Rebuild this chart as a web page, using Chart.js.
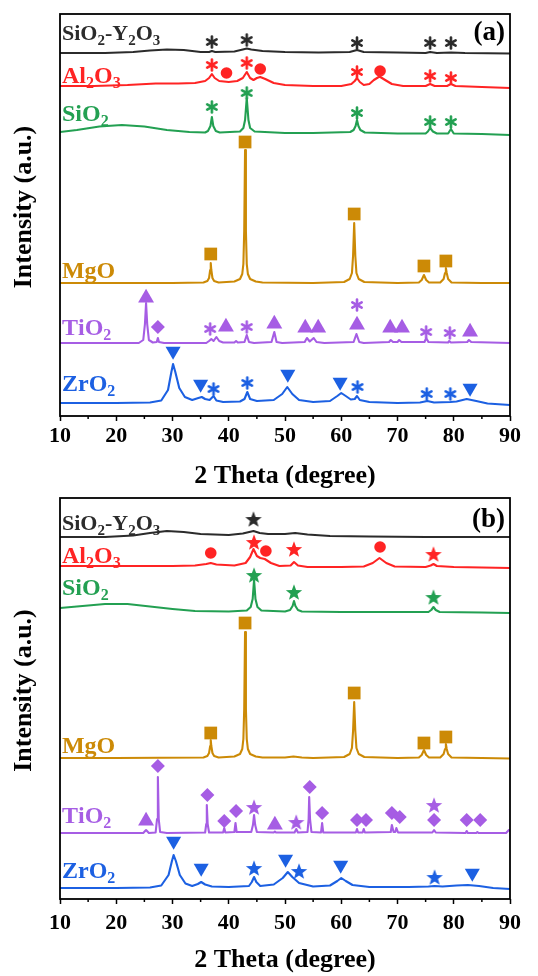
<!DOCTYPE html>
<html><head><meta charset="utf-8">
<script src="https://cdn.jsdelivr.net/npm/chart.js@4.4.1/dist/chart.umd.min.js"></script>
<style>
html,body{margin:0;padding:0;background:#fff;}
#wrap{position:relative;width:538px;height:976px;}
.pane{position:absolute;left:0;width:538px;height:488px;}
canvas{display:block;}
</style></head><body>
<div id="wrap">
<div class="pane" style="top:0"><canvas id="ca" width="538" height="488"></canvas></div>
<div class="pane" style="top:488px"><canvas id="cb" width="538" height="488"></canvas></div>
</div>
<script>
// ---------- DATA ----------
const seriesNames = ['SiO2-Y2O3','Al2O3','SiO2','MgO','TiO2','ZrO2'];
const xTicks = [10,20,30,40,50,60,70,80,90];
const panelTags = ['(a)','(b)'];

// Panel (a) patterns: [2theta, intensity (a.u., stacked)]
const a_SiY = [[10,363],[18,363],[23,364],[26,365.5],[29,366.5],[32,366],[35,364],[36.5,364],[37,365],[37.6,364],[41,364.5],[42.5,366.5],[43.2,367.5],[44,366.5],[46,365],[50,364],[56,363.5],[61.5,364],[62.8,366],[64,364],[70,363.5],[75,363],[75.8,364],[77,363],[79.5,363.5],[82,363],[90,362.5]];
const a_Al = [[10,330],[16,330],[22,331],[27,332.5],[31,332.5],[34,333],[35.8,335],[36.5,338],[37,342],[37.5,338],[38.3,335],[40,334],[41.5,335],[42.5,338],[43.2,344],[43.8,338],[44.4,336],[45,338],[45.6,339],[46.5,337],[48,333],[50,331],[55,330],[60,330],[61.8,332],[62.4,335],[62.8,338],[63.3,334],[64,331],[65,332],[65.8,336],[66.8,339.5],[67.8,336],[69,332],[71,330],[75,330],[75.8,332],[76.6,330],[78.8,330],[79.5,332],[80.3,330],[85,329],[90,328]];
const a_Si = [[10,284],[13,286],[17,289.5],[21,291],[25,289.5],[29,286],[33,284],[35.8,283.5],[36.3,285],[36.75,290],[37,299],[37.25,290],[37.7,285],[38.4,283.5],[42,284.5],[42.6,288],[42.9,296],[43.2,318],[43.5,296],[43.8,288],[44.6,284.5],[50,283],[55,283],[61.6,284],[62.2,286],[62.55,290],[62.8,296],[63.05,290],[63.4,286],[64.2,283.5],[70,282.5],[75,282.5],[75.4,284.5],[75.8,288],[76.3,284.5],[77,282.5],[79,282.5],[79.5,287],[80,282.5],[85,282],[90,281]];
const a_Mg = [[10,133],[20,133],[30,133],[35.5,133.5],[36.2,135],[36.5,138],[36.7,146],[36.8,153],[36.9,146],[37.1,138],[37.4,135],[38.2,133.5],[41.0,134.5],[42.0,137],[42.4,142],[42.6,152],[42.75,185],[42.9,266],[43.05,185],[43.2,152],[43.4,142],[43.8,137],[44.8,134.5],[46,133.5],[55,133],[60.5,134],[61.5,137],[61.9,143],[62.1,160],[62.3,193],[62.5,160],[62.7,143],[63.1,137],[64.1,134],[70,133],[73.8,133.5],[74.3,136],[74.7,141],[75.1,136],[75.6,133.5],[77.6,133.5],[78.2,137],[78.45,143],[78.6,148],[78.75,143],[79.0,137],[79.6,133.5],[85,133],[90,133]];
const a_Ti = [[10,73],[24,73],[24.8,76],[25.1,92],[25.3,113],[25.5,92],[25.8,76],[26.5,73.5],[27.2,74],[27.4,78],[27.6,74],[28.5,73],[36,73],[36.5,75],[36.9,77],[37.3,75],[37.8,79],[38.3,75],[39,73.5],[41,73.5],[41.3,75],[41.6,73.5],[42.8,74],[43.2,81],[43.6,74],[44.5,73],[47.6,74],[48.1,84],[48.5,74],[49.5,73],[53.5,74],[53.9,78],[54.4,74.5],[55.1,78],[55.6,74],[57,73],[62.2,74],[62.7,82],[63.2,74],[64,73],[68.5,74],[68.8,76],[69.2,74],[70,74],[70.3,76],[70.7,74],[74.8,74],[75.1,78],[75.5,74],[79,73.5],[79.2,75],[79.5,73.5],[82.4,74],[82.7,76],[83.1,74],[90,73]];
const a_Zr = [[10,13],[20,13],[26,13.5],[28,15.5],[29.2,26],[29.8,44],[30.1,52],[30.5,44],[31.2,28],[32.2,19],[33.5,16],[34.6,18],[35.2,19],[35.8,17],[36.6,16],[37.3,20],[37.8,15.5],[39,14],[42,14.5],[42.8,17],[43.3,24],[43.8,17],[45,15],[48,16],[49.5,22],[50.4,29],[51.3,22],[52.5,16],[55,14],[58,15],[59.3,20],[60,23],[60.8,20],[61.7,16.5],[62.4,17],[62.8,20],[63.3,16],[65,14],[70,13],[74,13.5],[75.3,15],[76.5,13.5],[79.4,14],[80.5,14.5],[82.3,17],[84,15],[86,12.5],[90,11]];

// Panel (a) phase markers
const a_SiY_ast = [[37.0,374],[43.2,376],[62.8,373],[75.8,373],[79.5,373]];
const a_Al_ast = [[37.0,351],[43.2,353],[62.8,344],[75.8,340],[79.5,338]];
const a_Al_circ = [[39.6,343],[45.6,347],[66.9,345]];
const a_Si_ast = [[37.0,309],[43.2,323],[62.8,303],[75.8,294],[79.5,294]];
const a_Mg_sq = [[36.8,162],[42.9,274],[62.3,202],[74.7,150],[78.6,155]];
const a_Ti_tri = [[25.3,118],[39.5,89],[48.1,92],[53.6,88],[55.9,88],[62.8,91],[68.7,88],[70.8,88],[82.9,84]];
const a_Ti_dia = [[27.4,89]];
const a_Ti_ast = [[36.7,87],[43.2,89],[62.8,111],[75.1,84],[79.3,83]];
const a_Zr_down = [[30.1,65],[35.0,32],[50.5,42],[59.8,34],[82.9,28]];
const a_Zr_ast = [[37.3,27],[43.3,33],[62.9,29],[75.2,22],[79.4,22]];

// Panel (b) patterns
const b_SiY = [[10,362],[18,362],[23,363.5],[26,366],[29,368],[32,367],[35,365],[40,364],[42.5,365.5],[44.4,368],[45.5,366],[47,365],[50,365],[51.8,366],[54,364.5],[58,363],[65,362.5],[75,362],[90,362]];
const b_Al = [[10,333],[20,333],[30,333],[34,333.5],[36,335],[36.8,336],[37.8,334.5],[41,333.5],[43,336],[43.8,342],[44.4,350],[45,343],[45.6,341],[46.4,340],[47.5,336],[49,333],[51,333.5],[51.6,337],[52.3,333.5],[54,332],[60,332],[64,332.5],[65.6,336],[66.8,341],[68,336],[69.5,332.5],[75,332],[75.9,333.5],[76.4,335],[77,333],[80,332],[90,331]];
const b_Si = [[10,291],[14,293],[18,295],[22,295],[26,292.5],[30,290],[34,288],[40,287.5],[43.2,288.5],[43.9,292],[44.25,300],[44.5,319],[44.75,300],[45.1,292],[45.8,288.5],[50,287.5],[50.9,289],[51.35,293],[51.6,298],[51.85,293],[52.3,289],[53,287.5],[60,287],[75.5,287],[76,289],[76.4,292],[76.8,289],[77.5,287],[85,286.5],[90,286]];
const b_Mg = [[10,141],[20,141],[35.5,141.5],[36.2,143],[36.5,146],[36.7,153],[36.8,159],[36.9,153],[37.1,146],[37.4,143],[38.2,141.5],[41.0,142.5],[42.0,145],[42.4,150],[42.6,160],[42.75,190],[42.9,267],[43.05,190],[43.2,160],[43.4,150],[43.8,145],[44.8,142.5],[46,141.5],[50,141.5],[51.5,142.5],[53,141.5],[55,141],[60.5,142],[61.5,145],[61.9,151],[62.1,168],[62.3,197],[62.5,168],[62.7,151],[63.1,145],[64.1,142],[70,141],[73.8,141.5],[74.3,144],[74.7,149],[75.1,144],[75.6,141.5],[77.6,141.5],[78.2,145],[78.45,150],[78.6,155],[78.75,150],[79.0,145],[79.6,141.5],[85,141],[90,140.5]];
const b_Ti = [[10,66],[24.8,66],[25.3,69],[25.8,66],[27,66.5],[27.25,80],[27.4,122],[27.55,80],[27.8,67],[29,66],[35.8,66.5],[36.0,75],[36.1,94],[36.25,75],[36.5,66.5],[39,66.5],[39.2,71],[39.4,66.5],[41,67],[41.2,76],[41.4,67],[44,67],[44.3,74],[44.5,84],[44.7,74],[45,67],[48,66.5],[48.2,67.5],[48.4,66.5],[51.7,66.5],[52,70],[52.3,66.5],[54,67],[54.2,80],[54.3,102],[54.45,80],[54.7,67],[56.4,66.5],[56.6,76],[56.8,66.5],[62.6,66.5],[62.8,70],[63,66.5],[63.8,66.5],[64.0,70],[64.2,66.5],[68.8,67],[69.0,74],[69.3,67],[69.6,67],[69.8,71],[70.1,66.5],[76.2,66.5],[76.5,69],[76.8,66.5],[82.1,66],[82.3,68],[82.5,66],[84,66],[84.2,67],[84.4,66],[89.3,66],[89.8,69],[90,68]];
const b_Zr = [[10,11],[20,11],[26,11.5],[28,13.5],[29.3,24],[29.9,38],[30.2,44],[30.6,38],[31.3,24],[32.3,15.5],[33.5,13],[34.5,15],[35.1,17],[35.8,14.5],[37,12.5],[40,12],[43.6,13],[44.1,17],[44.5,22],[44.9,17],[45.6,13],[48,14.5],[49.6,21],[50.5,27],[51.3,22],[52.5,16],[55,12.5],[58,13.5],[59.3,18],[60,21],[60.8,18],[62,14],[65,12],[72,12],[75.5,12.5],[76.6,13],[78,12.5],[80.5,13.5],[82.5,14],[84.5,13],[87,11],[90,10]];

// Panel (b) phase markers
const b_SiY_star = [[44.4,380]];
const b_Al_star = [[44.5,357],[51.6,350],[76.4,345]];
const b_Al_circ = [[36.8,346],[46.6,348],[66.9,352]];
const b_Si_star = [[44.5,324],[51.6,307],[76.4,302]];
const b_Mg_sq = [[36.8,166],[42.9,276],[62.3,206],[74.7,156],[78.6,162]];
const b_Ti_tri = [[25.3,78],[48.2,74]];
const b_Ti_dia = [[27.4,133],[36.2,104],[39.2,78],[41.3,88],[54.4,112],[56.6,86],[62.8,79],[64.4,79],[69.0,86],[70.4,82],[76.5,79],[82.3,79],[84.7,79]];
const b_Ti_star = [[44.5,92],[52.0,77],[76.5,94]];
const b_Zr_down = [[30.2,58],[35.1,31],[50.1,40],[59.9,34],[83.3,26]];
const b_Zr_star = [[44.5,31],[52.5,28],[76.6,22]];

// ---------- STYLE ----------
const FONT = "'Liberation Serif','Times New Roman',serif";
const COLORS = ['#2b2b2b','#ff2424','#23a052','#cc8a06','#a65de4','#1c60e2'];
const LABEL_SIZES = [22,24,24,24,24,24];

function pts(a){return a.map(p=>({x:p[0],y:p[1]}));}

function makeGlyph(kind,color){
  const c=document.createElement('canvas');
  if(kind==='ast'){
    c.width=c.height=14; const g=c.getContext('2d');
    g.strokeStyle=color; g.lineWidth=2.6; g.lineCap='round'; const r=5.4;
    for(const a of [90,30,150]){const t=a*Math.PI/180;
      g.beginPath(); g.moveTo(7-r*Math.cos(t),7-r*Math.sin(t)); g.lineTo(7+r*Math.cos(t),7+r*Math.sin(t)); g.stroke();}
  } else {
    c.width=c.height=18; const g=c.getContext('2d'); g.fillStyle=color; g.beginPath();
    for(let i=0;i<10;i++){const r=i%2?3.6:8.6; const t=-Math.PI/2+i*Math.PI/5;
      const x=9+r*Math.cos(t), y=9.8+r*Math.sin(t); if(i) g.lineTo(x,y); else g.moveTo(x,y);}
    g.closePath(); g.fill();
  }
  return c;
}

function markers(data,color,kind){
  const base={type:'scatter',data:pts(data),showLine:false,order:0,pointBorderWidth:0,
    pointBackgroundColor:color,pointBorderColor:color,pointHoverRadius:0};
  switch(kind){
    case 'circle': return {...base,pointStyle:'circle',pointRadius:5.8};
    case 'square': return {...base,pointStyle:'rect',pointRadius:9};
    case 'tri': return {...base,pointStyle:'triangle',pointRadius:9.2};
    case 'down': return {...base,pointStyle:'triangle',pointRadius:8.7,pointRotation:180};
    case 'diamond': return {...base,pointStyle:'rectRot',pointRadius:7};
    case 'ast': return {...base,pointStyle:makeGlyph('ast',color),pointRadius:5};
    case 'star': return {...base,pointStyle:makeGlyph('star',color),pointRadius:5};
  }
}
function line(data,color){
  return {type:'scatter',data:pts(data),showLine:true,borderColor:color,borderWidth:2.1,
    pointRadius:0,tension:0,order:1,fill:false,borderJoinStyle:'round'};
}

function drawChem(ctx,text,x,yMid,size,color){
  ctx.fillStyle=color; ctx.textAlign='left'; ctx.textBaseline='alphabetic';
  const base=yMid+size*0.33; let cx=x;
  for(let i=0;i<text.length;i++){
    const ch=text[i];
    const sub=/\d/.test(ch)&&i>0&&/[A-Za-z]/.test(text[i-1]);
    ctx.font='bold '+(sub?Math.round(size*0.68):size)+'px '+FONT;
    ctx.fillText(ch,cx,sub?base+size*0.22:base);
    cx+=ctx.measureText(ch).width;
  }
}

function panelPlugin(tag,labelV,tagV){
  return {id:'panel',afterDraw(chart){
    const {ctx,chartArea:a,scales:{x,y}}=chart;
    ctx.save();
    ctx.strokeStyle='#000'; ctx.lineWidth=1.8;
    ctx.strokeRect(a.left,a.top,a.right-a.left,a.bottom-a.top);
    ctx.lineWidth=1.5;
    for(let v=15;v<90;v+=10){const px=x.getPixelForValue(v);
      ctx.beginPath(); ctx.moveTo(px,a.bottom); ctx.lineTo(px,a.bottom+3); ctx.stroke();}
    seriesNames.forEach((n,i)=>drawChem(ctx,n,x.getPixelForValue(10.35),y.getPixelForValue(labelV[i]),LABEL_SIZES[i],COLORS[i]));
    ctx.font='bold 27px '+FONT; ctx.fillStyle='#000'; ctx.textAlign='right'; ctx.textBaseline='middle';
    ctx.fillText(tag,a.right-5,y.getPixelForValue(tagV));
    ctx.translate(24,(a.top+a.bottom)/2-8); ctx.rotate(-Math.PI/2);
    ctx.font='bold 26px '+FONT; ctx.textAlign='center'; ctx.textBaseline='middle';
    ctx.fillText('Intensity (a.u.)',0,0);
    ctx.restore();
  }};
}

function makeChart(id,datasets,ymax,padTop,xHeight,tickPad,titlePad,tag,labelV,tagV){
  return new Chart(document.getElementById(id),{
    type:'scatter',
    data:{datasets},
    options:{
      animation:false,responsive:false,maintainAspectRatio:false,
      events:[],
      layout:{padding:{top:padTop,right:28,left:0,bottom:0}},
      plugins:{legend:{display:false},tooltip:{enabled:false}},
      scales:{
        x:{type:'linear',min:10,max:90,
          afterBuildTicks(s){s.ticks=xTicks.map(v=>({value:v}));},
          ticks:{font:{family:FONT,size:22,weight:'bold'},color:'#000',padding:tickPad,maxRotation:0,autoSkip:false},
          grid:{drawOnChartArea:false,drawTicks:true,tickLength:5,tickColor:'#000',tickWidth:1.5},
          border:{display:false},
          title:{display:true,text:'2 Theta (degree)',color:'#000',font:{family:FONT,size:26,weight:'bold',lineHeight:0.9},padding:{top:0,bottom:titlePad}},
          afterFit(s){s.height=xHeight;}},
        y:{type:'linear',min:0,max:ymax,ticks:{display:false},grid:{display:false},border:{display:false},
          afterFit(s){s.width=60;}}
      }
    },
    plugins:[panelPlugin(tag,labelV,tagV)]
  });
}

const C=COLORS;
const dsA=[
  markers(a_SiY_ast,C[0],'ast'),markers(a_Al_ast,C[1],'ast'),markers(a_Al_circ,C[1],'circle'),
  markers(a_Si_ast,C[2],'ast'),markers(a_Mg_sq,C[3],'square'),
  markers(a_Ti_tri,C[4],'tri'),markers(a_Ti_dia,C[4],'diamond'),markers(a_Ti_ast,C[4],'ast'),
  markers(a_Zr_down,C[5],'down'),markers(a_Zr_ast,C[5],'ast'),
  line(a_SiY,C[0]),line(a_Al,C[1]),line(a_Si,C[2]),line(a_Mg,C[3]),line(a_Ti,C[4]),line(a_Zr,C[5])
];
const dsB=[
  markers(b_SiY_star,C[0],'star'),markers(b_Al_star,C[1],'star'),markers(b_Al_circ,C[1],'circle'),
  markers(b_Si_star,C[2],'star'),markers(b_Mg_sq,C[3],'square'),
  markers(b_Ti_tri,C[4],'tri'),markers(b_Ti_dia,C[4],'diamond'),markers(b_Ti_star,C[4],'star'),
  markers(b_Zr_down,C[5],'down'),markers(b_Zr_star,C[5],'star'),
  line(b_SiY,C[0]),line(b_Al,C[1]),line(b_Si,C[2]),line(b_Mg,C[3]),line(b_Ti,C[4]),line(b_Zr,C[5])
];

makeChart('ca',dsA,402,14,72,2.5,0,panelTags[0],[383,341,303,146,89,33],383);
makeChart('cb',dsB,401,10,77,5.8,4,panelTags[1],[376,344,312,154,84,29],379);
</script>
</body></html>
